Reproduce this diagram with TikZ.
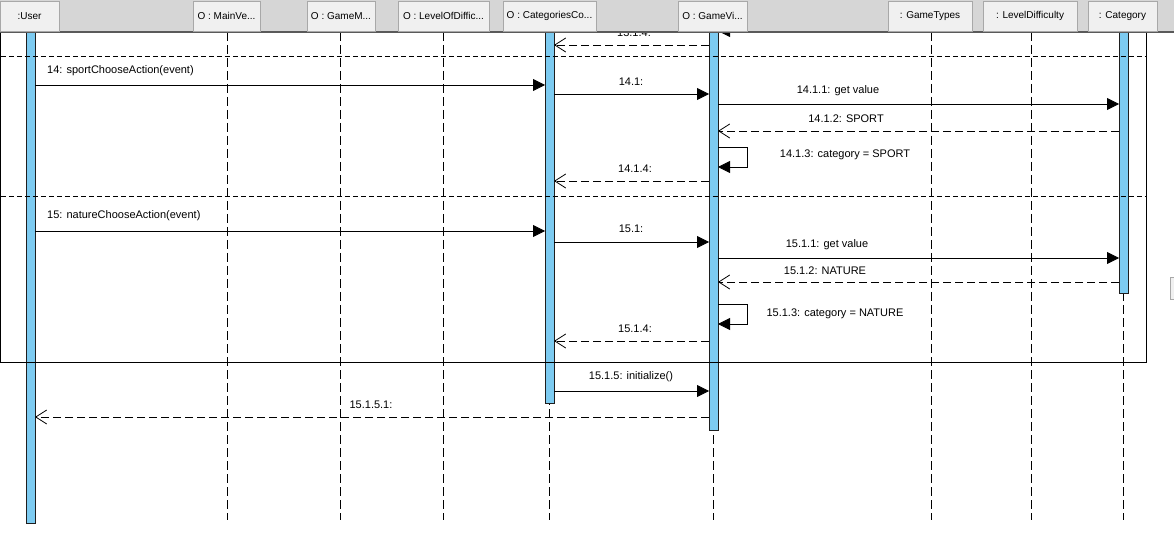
\documentclass[tikz,border=0pt]{standalone}
\usepackage{fontspec}
\setmainfont{Liberation Sans}
\usetikzlibrary{arrows.meta}
\definecolor{bandgray}{HTML}{D6D6D6}
\definecolor{headfill}{HTML}{F0F0F0}
\definecolor{headline}{HTML}{A8A8A8}
\definecolor{headrule}{HTML}{5A5A5A}
\definecolor{barblue}{HTML}{7DCBF1}
\definecolor{bardraw}{HTML}{1E1E1E}
\begin{document}
\begin{tikzpicture}[x=1pt,y=-1pt,
  head/.style={draw=headline, fill=headfill, minimum height=30pt, inner sep=0pt, outer sep=0pt,
    anchor=north west, font=\fontsize{10}{12}\selectfont},
  lifeline/.style={draw=black, line width=0.8pt, dash pattern=on 9pt off 4pt},
  bar/.style={draw=bardraw, fill=barblue, line width=1pt, minimum width=9pt, inner sep=0pt,
    outer sep=0pt, anchor=north west},
  msg/.style={draw=black, line width=0.8pt, -{Triangle[length=12pt,width=12pt]}},
  ret/.style={draw=black, line width=0.8pt, dash pattern=on 8pt off 4pt,
    -{Straight Barb[length=11pt,width=14pt,line width=0.8pt]}},
  lbl/.style={font=\fontsize{11}{13}\selectfont, inner sep=0pt},
  sep/.style={draw=black, line width=0.8pt, dash pattern=on 5pt off 3pt},
]
\useasboundingbox (0,0) rectangle (1174,534);
\fill[white] (0,0) rectangle (1174,534);

% lifelines
\foreach \nm/\x/\yend in {lU/30.5/520, lMV/227/520, lGM/340/520, lLD/443/520,
    lCC/549.5/520, lGV/713.5/520, lGT/931/520, lLV/1031/520, lCat/1123.5/520}{
  \coordinate (\nm top) at (\x,32);
  \coordinate (\nm bot) at (\x,\yend);
  \draw[lifeline] (\nm top) -- (\nm bot);
}

% activation bars
\node[bar, minimum height=503pt] (barU) at (26,20) {};
\node[bar, minimum height=383pt] (barC) at (545,20) {};
\node[bar, minimum height=410pt] (barG) at (709,20) {};
\node[bar, minimum height=274pt] (barK) at (1119,20) {};

% combined fragment frame with its operand separators
\node[draw=black, line width=0.8pt, minimum width=1146pt, minimum height=352pt, inner sep=0pt,
  outer sep=0pt, anchor=north west] (frame) at (0.8,10) {};
\draw[sep] (frame.west |- 0,56) -- (frame.east |- 0,56);
\draw[sep] (frame.west |- 0,196) -- (frame.east |- 0,196);

% tail of the previous operand
\draw[msg] (barG.east |- 0,17) -- (747,17) -- (747,31) -- (barG.east |- 0,31);
\draw[ret] (barG.west |- 0,45) -- (barC.east |- 0,45);
\node[lbl] (t1314) at (634,33) {13.1.4:};

% sport
\draw[msg] (barU.east |- 0,85) -- (barC.west |- 0,85);
\node[lbl, anchor=west] (t14) at (47,71) {14: sportChooseAction(event)};
\draw[msg] (barC.east |- 0,94) -- (barG.west |- 0,94);
\node[lbl] (t141) at (631,82) {14.1:};
\draw[msg] (barG.east |- 0,104) -- (barK.west |- 0,104);
\node[lbl] (t1411) at (838,91) {14.1.1: get value};
\draw[ret] (barK.west |- 0,131) -- (barG.east |- 0,131);
\node[lbl] (t1412) at (846,119) {14.1.2: SPORT};
\draw[msg] (barG.east |- 0,147) -- (747,147) -- (747,167) -- (barG.east |- 0,167);
\node[lbl] (t1413) at (845,155) {14.1.3: category = SPORT};
\draw[ret] (barG.west |- 0,181) -- (barC.east |- 0,181);
\node[lbl] (t1414) at (635,169) {14.1.4:};

% nature
\draw[msg] (barU.east |- 0,231) -- (barC.west |- 0,231);
\node[lbl, anchor=west] (t15) at (47,216) {15: natureChooseAction(event)};
\draw[msg] (barC.east |- 0,242) -- (barG.west |- 0,242);
\node[lbl] (t151) at (631,229) {15.1:};
\draw[msg] (barG.east |- 0,258) -- (barK.west |- 0,258);
\node[lbl] (t1511) at (827,245) {15.1.1: get value};
\draw[ret] (barK.west |- 0,282) -- (barG.east |- 0,282);
\node[lbl] (t1512) at (825,271) {15.1.2: NATURE};
\draw[msg] (barG.east |- 0,304) -- (747,304) -- (747,324) -- (barG.east |- 0,324);
\node[lbl] (t1513) at (835,314) {15.1.3: category = NATURE};
\draw[ret] (barG.west |- 0,341) -- (barC.east |- 0,341);
\node[lbl] (t1514) at (635,329) {15.1.4:};

% after the fragment
\draw[msg] (barC.east |- 0,391) -- (barG.west |- 0,391);
\node[lbl] (t1515) at (631,377) {15.1.5: initialize()};
\draw[ret] (barG.west |- 0,417) -- (barU.east |- 0,417);
\node[lbl] (t15151) at (371,405) {15.1.5.1:};

% small handle at the right border
\node[draw=headline, fill=headfill, minimum width=8pt, minimum height=22pt, inner sep=0pt,
  anchor=north west] (handle) at (1170,277) {};

% header band with the lifeline heads
\fill[bandgray] (0,0) rectangle (1174,32);
\draw[headrule, line width=1.5pt] (0,32) -- (1174,32);
\node[head, minimum width=59pt] (hU) at (0,1) {:User};
\node[head, minimum width=67pt] (hMV) at (193,1) {O : MainVe...};
\node[head, minimum width=68pt] (hGM) at (307,1) {O : GameM...};
\node[head, minimum width=91pt] (hLD) at (398,1) {O : LevelOfDiffic...};
\node[head, minimum width=93pt] (hCC) at (503,1) {O : CategoriesCo...};
\node[head, minimum width=69pt] (hGV) at (678,1) {O : GameVi...};
\node[head, minimum width=84pt] (hGT) at (888,1) {: GameTypes};
\node[head, minimum width=94pt] (hLV) at (983,1) {: LevelDifficulty};
\node[head, minimum width=69pt] (hCat) at (1088,1) {: Category};
\end{tikzpicture}
\end{document}
